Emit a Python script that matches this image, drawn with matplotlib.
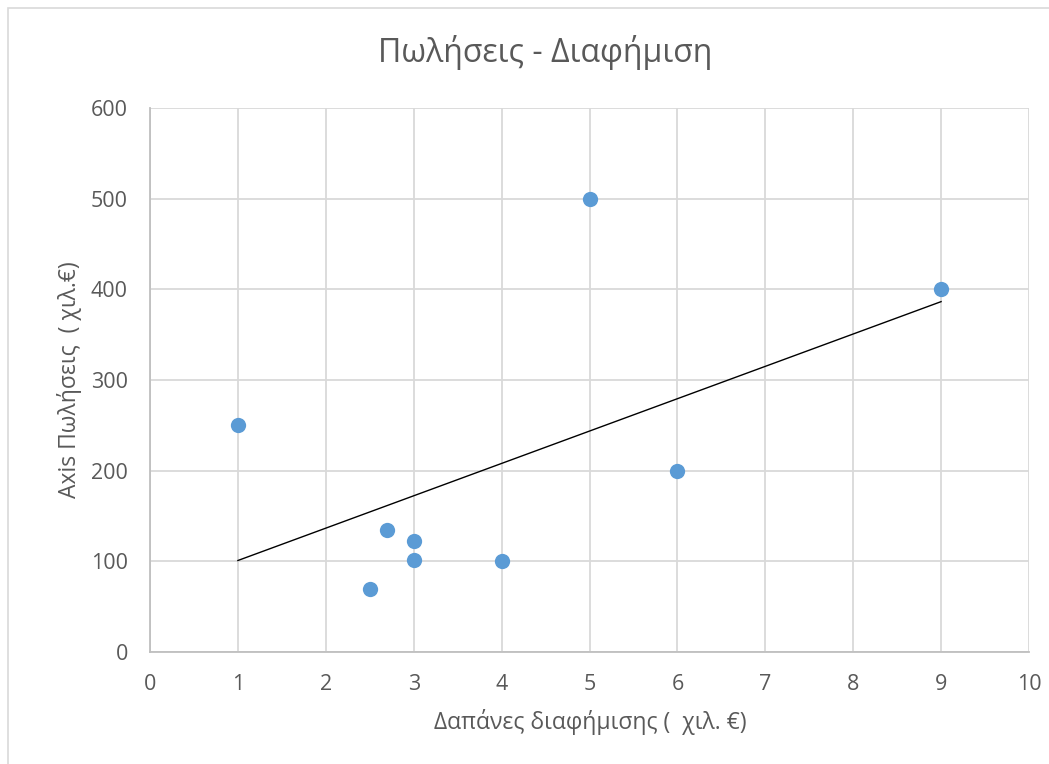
import numpy as np
import matplotlib
matplotlib.use("Agg")
import matplotlib.pyplot as plt
from matplotlib.patches import Rectangle

plt.rcParams['font.family'] = ['Open Sans', 'DejaVu Sans']

advert = [1, 2.5, 2.7, 3, 3, 4, 5, 6, 9]
sales = [250, 70, 135, 122, 102, 100, 500, 200, 400]
x_ticks = list(range(0, 11))
y_ticks = [0, 100, 200, 300, 400, 500, 600]
title = "Πωλήσεις - Διαφήμιση"
xlabel = "Δαπάνες διαφήμισης (  χιλ. €)"
ylabel = "Axis Πωλήσεις  ( χιλ.€)"

W, H = 1049, 764
fig = plt.figure(figsize=(W/100, H/100), dpi=100)
fig.patches.append(Rectangle((8/W, -0.01), 1.1, (H-8)/H + 0.01, transform=fig.transFigure,
                             fill=False, edgecolor='#D9D9D9', linewidth=1.2))
ax = fig.add_axes([150/W, 1-652/H, (1029-150)/W, (652-108)/H])

ax.set_xlim(0, 10)
ax.set_ylim(0, 600)
ax.set_xticks(x_ticks)
ax.set_yticks(y_ticks)
ax.grid(True, color='#D9D9D9', linewidth=1.3)
ax.set_axisbelow(True)
for s in ['top', 'right']:
    ax.spines[s].set_visible(False)
for s in ['left', 'bottom']:
    ax.spines[s].set_color('#BFBFBF')
    ax.spines[s].set_linewidth(1.3)
ax.tick_params(length=0, labelsize=15.5, colors='#595959')
ax.tick_params(axis='x', pad=16)
ax.tick_params(axis='y', pad=16)

ax.scatter(advert, sales, s=121, color='#5B9BD5', zorder=3, linewidths=0)

coef = np.polyfit(advert, sales, 1)
xs = np.array([min(advert), max(advert)])
ax.plot(xs, np.polyval(coef, xs), color='black', linewidth=1.0, zorder=2)

fig.text(545/W, 1-52/H, title, ha='center', va='center', fontsize=23, color='#595959')
fig.text(590/W, 1-722/H, xlabel, ha='center', va='center', fontsize=16.5, color='#595959')
fig.text(70/W, 1-380/H, ylabel, ha='center', va='center', rotation=90, fontsize=16.5, color='#595959')

fig.savefig("out.png", dpi=100)
